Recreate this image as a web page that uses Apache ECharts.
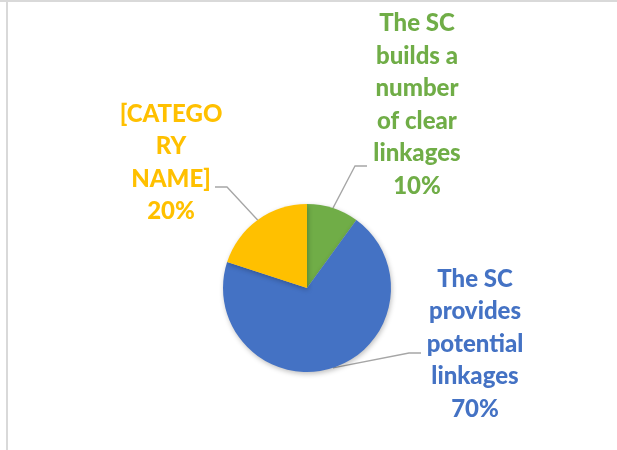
<!DOCTYPE html>
<html>
<head>
<meta charset="utf-8">
<script src="https://cdn.jsdelivr.net/npm/echarts@6/dist/echarts.min.js"></script>
<style>
  html, body { margin: 0; padding: 0; background: #fff; }
  #chart { width: 617px; height: 450px; }
</style>
</head>
<body>
<div id="chart"></div>
<script>
// slice names (already wrapped the way the original breaks them) and shares
const categories = [
  'The SC\nbuilds a\nnumber\nof clear\nlinkages',
  'The SC\nprovides\npotential\nlinkages',
  '[CATEGO\nRY\nNAME]'
];
const values = [10, 70, 20];
const colors = ['#70AD47', '#4472C4', '#FFC000'];

// label centre + where the leader line meets it (offset from label centre)
const labelPos = [
  { x: 417, y: 105, ex: -50, ey: 61 },
  { x: 475, y: 344, ex: -54, ey: 9 },
  { x: 171, y: 163, ex: 44, ey: 24 },
];

const chart = echarts.init(document.getElementById('chart'));
chart.setOption({
  animation: false,
  backgroundColor: '#fff',
  graphic: [
    { type: 'line', shape: { x1: 0, y1: 1, x2: 617, y2: 1 }, style: { stroke: '#d9d9d9', lineWidth: 2 } },
    { type: 'line', shape: { x1: 7, y1: 0, x2: 7, y2: 450 }, style: { stroke: '#d9d9d9', lineWidth: 2 } },
  ],
  series: [{
    type: 'pie',
    center: [307, 288],
    radius: 84,
    startAngle: 90,
    clockwise: true,
    data: categories.map((c, i) => ({ name: c, value: values[i], itemStyle: { color: colors[i] } })),
    itemStyle: { borderWidth: 0, shadowBlur: 5, shadowColor: 'rgba(0,0,0,0.25)', shadowOffsetX: 1, shadowOffsetY: 2 },
    label: {
      show: true, position: 'outside',
      formatter: p => `${p.name}\n${Math.round(p.percent)}%`,
      color: 'inherit',
      fontFamily: 'Lato', fontWeight: 900, fontSize: 24, lineHeight: 32.5,
      align: 'center',
    },
    labelLine: { show: true, length: 15, length2: 12, lineStyle: { color: '#a6a6a6', width: 1.3 } },
    labelLayout: function (params) {
      const L = labelPos[params.dataIndex];
      const p0 = params.labelLinePoints ? params.labelLinePoints[0] : [L.x, L.y];
      const end = [L.x + L.ex, L.y + L.ey];
      const bend = [end[0] + (L.ex < 0 ? -12 : 12), end[1]];
      return { x: L.x, y: L.y, align: 'center', verticalAlign: 'middle', labelLinePoints: [p0, bend, end] };
    },
    emphasis: { disabled: true },
  }],
});
</script>
</body>
</html>
